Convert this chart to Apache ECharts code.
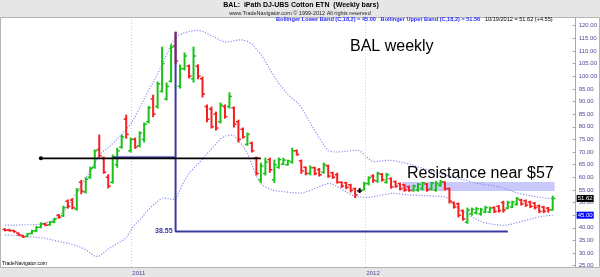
<!DOCTYPE html>
<html><head><meta charset="utf-8">
<script src="https://cdn.jsdelivr.net/npm/echarts@6/dist/echarts.min.js"></script>
<style>html,body{margin:0;padding:0;background:#e6e6e6}#c{width:600px;height:277px}</style>
</head><body><div id="c"></div>
<script>
// ---- data ----
const firstWeek = '2010-06-18'; // first weekly bar (Friday); bars are consecutive weeks
const opens  = [39.4,39.2,38.9,37.9,36.9,36.6,37.8,38.8,40.2,41.5,41.2,42.3,45.0,44.8,50.5,51.0,47.5,58.0,54.2,60.0,
  64.0,71.0,67.5,60.0,58.0,65.0,72.0,83.0,70.5,75.0,72.5,75.0,82.0,91.0,88.0,94.0,91.0,98.0,112.0,96.0,
  103.0,104.0,99.0,104.0,99.0,88.0,87.0,85.0,82.0,88.0,88.0,87.5,82.0,79.0,73.0,73.5,67.5,59.0,61.5,67.0,
  59.0,64.0,65.2,65.0,66.0,70.5,66.5,64.0,61.5,63.8,63.0,62.0,64.5,61.8,61.0,58.0,57.8,57.0,55.5,54.6,
  55.0,57.5,60.5,58.5,61.2,58.0,59.5,58.3,57.5,57.0,56.3,54.8,55.0,55.5,57.3,55.5,55.0,56.8,58.0,55.5,
  50.0,49.5,46.8,42.2,45.5,46.0,45.5,46.3,46.2,48.0,48.5,50.0,47.8,48.3,49.3,51.0,50.7,50.2,49.8,48.7,
  48.2,47.8,47.1];
const highs  = [39.6,39.4,39.0,38.0,37.0,37.8,39.0,40.5,42.0,41.8,42.5,43.8,45.2,48.5,51.0,51.5,55.5,58.8,59.8,64.0,
  70.8,76.7,68.0,61.0,68.8,71.5,76.7,84.6,75.5,75.5,78.0,81.5,88.0,92.5,97.7,111.5,97.3,112.4,117.5,104.4,
  109.2,104.4,111.5,104.5,99.7,88.6,87.8,85.8,89.4,88.6,93.4,87.8,82.6,79.5,77.5,73.9,68.0,65.6,67.6,67.6,
  66.8,67.6,67.5,66.8,71.5,70.8,66.8,64.0,64.5,64.0,63.5,65.6,64.8,62.0,61.6,58.2,58.0,57.2,55.7,55.5,
  58.0,60.2,61.0,62.0,61.5,61.6,59.7,58.5,57.7,57.2,56.5,56.8,57.5,58.0,57.5,58.0,58.3,58.7,58.2,55.7,
  50.2,49.8,47.0,47.8,47.8,48.0,47.7,48.5,48.2,48.3,48.8,50.5,50.5,50.5,52.0,51.3,51.0,50.5,50.0,49.0,
  48.5,48.0,52.5];
const lows   = [38.8,38.7,38.3,37.0,36.2,36.5,37.6,38.5,40.0,40.8,41.0,42.0,43.8,44.5,47.8,47.5,47.0,53.5,53.8,59.6,
  63.6,68.0,61.6,55.8,57.7,64.0,71.5,75.5,70.0,71.5,72.0,74.0,81.5,84.0,87.4,93.8,90.6,97.7,105.0,95.3,
  102.5,99.3,97.7,99.0,91.8,82.0,79.5,78.7,81.5,83.4,87.4,79.9,74.0,75.5,72.7,70.0,60.9,58.0,60.9,62.0,
  58.0,63.6,65.0,64.8,65.6,68.8,61.6,61.0,61.0,61.0,60.5,61.6,60.0,59.6,57.7,56.0,55.5,54.2,52.0,54.0,
  55.0,57.0,58.0,58.0,58.5,57.7,55.7,56.0,55.0,54.5,54.5,54.5,54.5,55.0,54.5,55.0,54.5,56.5,55.0,49.8,
  47.8,44.3,43.0,41.8,45.0,45.5,45.0,46.0,46.0,46.0,46.2,46.2,47.5,48.0,49.0,49.0,48.5,48.0,47.5,46.0,
  46.0,46.2,47.0];
const closes = [39.0,38.9,38.5,37.2,36.4,37.6,38.8,40.2,41.6,41.0,42.3,43.5,44.2,48.0,48.5,48.0,54.8,54.5,59.2,63.5,
  70.5,68.5,62.0,56.5,68.0,70.5,76.0,77.0,75.0,72.0,77.5,81.0,87.5,85.0,97.0,105.0,96.0,111.5,106.0,103.0,
  108.0,100.0,108.0,100.0,93.0,83.0,80.0,79.5,88.5,84.0,92.0,81.0,75.0,76.0,77.0,70.5,61.5,64.5,66.0,63.0,
  65.0,67.0,66.8,66.5,70.5,69.0,62.5,61.5,63.8,61.5,61.0,65.0,60.5,60.0,58.0,56.5,56.0,54.8,53.0,54.6,
  57.5,59.8,58.8,61.5,59.0,61.0,56.2,56.5,55.5,55.0,54.8,56.5,57.2,57.8,55.0,57.7,57.5,58.3,55.5,50.5,
  48.2,45.0,43.5,47.0,47.3,47.5,47.2,48.0,47.8,46.5,46.8,47.0,50.0,50.2,51.5,49.5,49.0,48.5,48.0,46.5,
  46.6,47.07,51.62];
const upperBand = [41.1,41.1,41.1,41.1,41.2,41.2,41.2,41.3,41.4,41.9,42.5,43.5,44.7,46.4,48.8,51.2,54.0,56.6,59.6,62.5,
  65.5,68.7,70.5,71.8,73.4,75.0,77.0,79.0,81.0,84.0,87.5,91.0,94.5,97.5,101.0,104.5,108.5,112.5,115.5,116.5,
  117.2,117.7,118.0,118.2,117.8,117.0,116.0,115.2,114.2,113.5,113.6,114.0,114.4,114.4,113.8,112.8,110.8,108.7,105.8,102.8,
  99.8,97.2,95.0,92.8,91.2,89.8,87.6,84.5,81.5,78.5,75.5,72.8,70.5,70.0,70.0,70.1,70.3,70.5,70.7,70.6,
  69.0,67.3,66.1,66.3,66.5,66.7,66.7,66.4,66.0,65.7,65.2,64.7,64.1,63.6,63.0,62.5,61.9,61.4,60.9,60.5,
  60.0,59.5,59.0,58.6,58.1,57.7,57.4,57.0,56.8,56.5,56.2,55.7,55.1,54.5,53.9,53.4,53.0,52.7,52.4,52.2,
  51.9,51.7,51.56];
const lowerBand = [37.2,37.1,37.0,36.9,36.7,36.5,36.4,36.2,36.1,35.8,35.4,35.0,34.6,34.2,33.9,33.4,32.8,32.2,31.3,30.0,
  28.7,28.8,30.2,31.6,32.7,33.8,34.8,36.0,39.0,41.5,43.0,45.2,47.3,49.0,50.5,51.7,51.8,51.3,51.3,55.0,
  58.8,61.5,63.5,65.3,67.2,69.2,71.3,73.3,75.2,76.3,76.8,76.4,74.5,72.5,69.5,65.0,60.5,57.5,56.2,55.3,
  54.8,54.5,54.3,54.1,53.9,53.8,53.7,54.2,54.8,55.5,56.3,57.0,57.6,57.3,56.3,55.3,54.2,53.2,52.4,52.2,
  52.1,52.0,52.3,52.6,53.0,53.3,53.6,53.6,53.4,53.2,53.0,52.9,52.9,52.8,52.7,52.6,52.5,52.4,52.3,51.3,
  49.5,48.0,46.6,45.5,44.4,43.4,42.5,41.9,41.6,41.3,41.1,41.0,41.1,41.5,42.0,42.5,43.0,43.4,43.9,44.3,
  44.6,44.9,45.0];
const yearTicks = ['2011-01-01','2012-01-01'];
const priceTicks = [25,30,35,40,45,50,55,60,65,70,75,80,85,90,95,100,105,110,115,120];
const supportLine = {from:'2010-08-13', to:'2011-07-22', value:67.5};
const breakoutLine = {from:'2010-12-03', to:'2011-03-11', value:67.9};
const peakDrop = {date:'2011-03-11', top:117.5, bottom:38.55, end:'2012-08-10'};
const resistance = {from:'2012-02-27', to:'2012-10-22', low:54.6, high:58.1};

// ---- build ----
const DAY = 86400000;
const ts = s => Date.parse(s + 'T00:00:00Z');
const t0 = ts(firstWeek);
const dates = opens.map((_, i) => t0 + i * 7 * DAY);
const last = closes.length - 1;
const GREEN = '#19c219', RED = '#f51f1f', BLUE = '#3a3aa0', BAND = '#8c8cf2';
const FONT = 'Liberation Sans, Arial, sans-serif';

function renderBar(params, api) {
  const t = api.value(0), o = api.value(1), h = api.value(2), l = api.value(3), c = api.value(4);
  const pH = api.coord([t, h]), pL = api.coord([t, l]), pO = api.coord([t, o]), pC = api.coord([t, c]);
  const x = pH[0];
  const color = c > o ? GREEN : (c < o ? RED : '#000');
  return {type: 'group', children: [
    {type: 'line', shape: {x1: x, y1: pH[1] - 0.5, x2: x, y2: pL[1] + 0.5}, style: {stroke: color, lineWidth: 2}},
    {type: 'line', shape: {x1: x - 2.5, y1: pO[1], x2: x, y2: pO[1]}, style: {stroke: color, lineWidth: 1.5}},
    {type: 'line', shape: {x1: x, y1: pC[1], x2: x + 2.5, y2: pC[1]}, style: {stroke: color, lineWidth: 1.5}}
  ]};
}

const valueBox = (bg) => ({
  silent: true, symbol: ['none', 'none'], lineStyle: {width: 0, color: 'rgba(0,0,0,0)'},
  label: {show: true, position: 'end', distance: 1, formatter: p => Number(p.value).toFixed(2), fontSize: 6,
    fontFamily: FONT, color: '#fff', backgroundColor: bg, padding: [1, 1, 0, 1]}
});

const chart = echarts.init(document.getElementById('c'), null, {renderer: 'canvas'});
chart.setOption({
  animation: false,
  backgroundColor: '#e6e6e6',
  grid: {left: 1, right: 23, top: 18, bottom: 10},
  xAxis: {
    type: 'value', min: t0 - 6.2 * DAY, max: t0 + 889.8 * DAY,
    axisLine: {show: false},
    axisTick: {show: false, customValues: yearTicks.map(ts)},
    axisLabel: {customValues: yearTicks.map(ts), formatter: v => String(new Date(v).getUTCFullYear()),
      fontSize: 6, fontFamily: FONT, color: '#4b4b9b', align: 'left', margin: 3, padding: [0,0,0,1]},
    splitLine: {show: false}
  },
  yAxis: {
    type: 'value', position: 'right', min: 24.486, max: 123.048,
    axisLine: {show: true, lineStyle: {color: '#a8a8a8', width: 1}},
    axisTick: {show: true, inside: true, length: 3, customValues: priceTicks, lineStyle: {color: '#a8a8a8'}},
    axisLabel: {customValues: priceTicks, formatter: v => v.toFixed(2), fontSize: 6, fontFamily: FONT,
      color: '#4b4b9b', margin: 3},
    splitLine: {show: false}
  },
  graphic: [
    {type: 'rect', z: -100, silent: true, shape: {x: 0.5, y: 17.5, width: 599, height: 250},
      style: {fill: '#ffffff', stroke: '#b4b4b4', lineWidth: 1}},
    {type: 'text', z: 100, x: 301, y: 5.5, style: {text: 'BAL:  iPath DJ-UBS Cotton ETN  (Weekly bars)',
      font: 'bold 7px ' + FONT, fill: '#000', textAlign: 'center', textVerticalAlign: 'middle'}},
    {type: 'text', z: 100, x: 300, y: 13, style: {text: 'www.TradeNavigator.com \u00a9 1999-2012 All rights reserved',
      font: '5.5px ' + FONT, fill: '#222', textAlign: 'center', textVerticalAlign: 'middle'}},
    {type: 'text', z: 100, x: 276, y: 19.5, style: {
      text: '{b|Bollinger Lower Band (C,18,2) = ' + lowerBand[last].toFixed(2) + '   Bollinger Upper Band (C,18,2) = ' +
        upperBand[last].toFixed(2) + '}{k|   10/19/2012 = ' + closes[last].toFixed(2) + ' (+' + (closes[last] - closes[last - 1]).toFixed(2) + ')}',
      textVerticalAlign: 'middle',
      rich: {b: {font: 'bold 5.6px ' + FONT, fill: '#2b2bff'}, k: {font: '5.6px ' + FONT, fill: '#000'}}}},
    {type: 'text', z: 100, x: 350, y: 47, style: {text: 'BAL weekly', font: '16px ' + FONT, fill: '#000',
      textVerticalAlign: 'middle'}},
    {type: 'text', z: 100, x: 407, y: 174, style: {text: 'Resistance near $57', font: '16px ' + FONT, fill: '#000',
      textVerticalAlign: 'middle'}},
    {type: 'text', z: 100, x: 2, y: 264, style: {text: 'TradeNavigator.com', font: '5px ' + FONT, fill: '#000',
      textVerticalAlign: 'middle'}}
  ],
  series: [
    {
      type: 'line', name: 'Bollinger Upper', data: dates.map((t, i) => [t, upperBand[i]]),
      symbol: 'none', z: 1, lineStyle: {color: BAND, width: 1.2, type: [1.2, 1.6]},
      markLine: {silent: true, symbol: ['none', 'none'], label: {show: false},
        lineStyle: {color: '#cfcfcf', width: 1, type: [1, 2]},
        data: yearTicks.map(d => ({xAxis: ts(d)}))}
    },
    {
      type: 'line', name: 'Bollinger Lower', data: dates.map((t, i) => [t, lowerBand[i]]),
      symbol: 'none', z: 1, lineStyle: {color: BAND, width: 1.2, type: [1.2, 1.6]},
      markLine: Object.assign(valueBox('#0000ff'), {data: [{yAxis: lowerBand[last]}]})
    },
    {
      type: 'line', name: 'zone', data: [], z: 0,
      markArea: {silent: true, itemStyle: {color: '#c8c8fa'},
        data: [[{xAxis: ts(resistance.from), yAxis: resistance.low}, {xAxis: ts(resistance.to), yAxis: resistance.high}]]}
    },
    {
      type: 'custom', name: 'BAL', renderItem: renderBar, z: 5,
      encode: {x: 0, y: [1, 2, 3, 4]},
      data: dates.map((t, i) => [t, opens[i], highs[i], lows[i], closes[i]])
    },
    {
      type: 'line', name: 'lastClose', data: [[dates[last], closes[last]]], symbol: 'none', z: 9,
      lineStyle: {opacity: 0},
      markLine: Object.assign(valueBox('#000'), {data: [{yAxis: closes[last]}]})
    },
    {
      type: 'line', name: 'support', z: 8,
      data: [{value: [ts(supportLine.from), supportLine.value], symbol: 'circle', symbolSize: 4},
             {value: [ts(supportLine.to), supportLine.value], symbol: 'none'}],
      showAllSymbol: true, itemStyle: {color: '#000'}, lineStyle: {color: '#000', width: 1.8}
    },
    {
      type: 'line', name: 'breakout', z: 7, symbol: 'none',
      data: [[ts(breakoutLine.from), breakoutLine.value], [ts(breakoutLine.to), breakoutLine.value]],
      lineStyle: {color: BLUE, width: 1.5, shadowColor: 'rgba(60,60,200,0.35)', shadowBlur: 2}
    },
    {
      type: 'line', name: 'drop', z: 7, symbol: 'circle', symbolSize: 0.1, showAllSymbol: true,
      itemStyle: {color: BLUE},
      data: [[ts(peakDrop.date), peakDrop.top],
             {value: [ts(peakDrop.date), peakDrop.bottom],
              label: {show: true, position: 'left', distance: 3, formatter: p => p.value[1].toFixed(2),
                fontSize: 7, fontWeight: 'bold', fontFamily: FONT, color: BLUE}},
             [ts(peakDrop.end), peakDrop.bottom]],
      lineStyle: {color: BLUE, width: 2}
    }
  ]
});
</script></body></html>
